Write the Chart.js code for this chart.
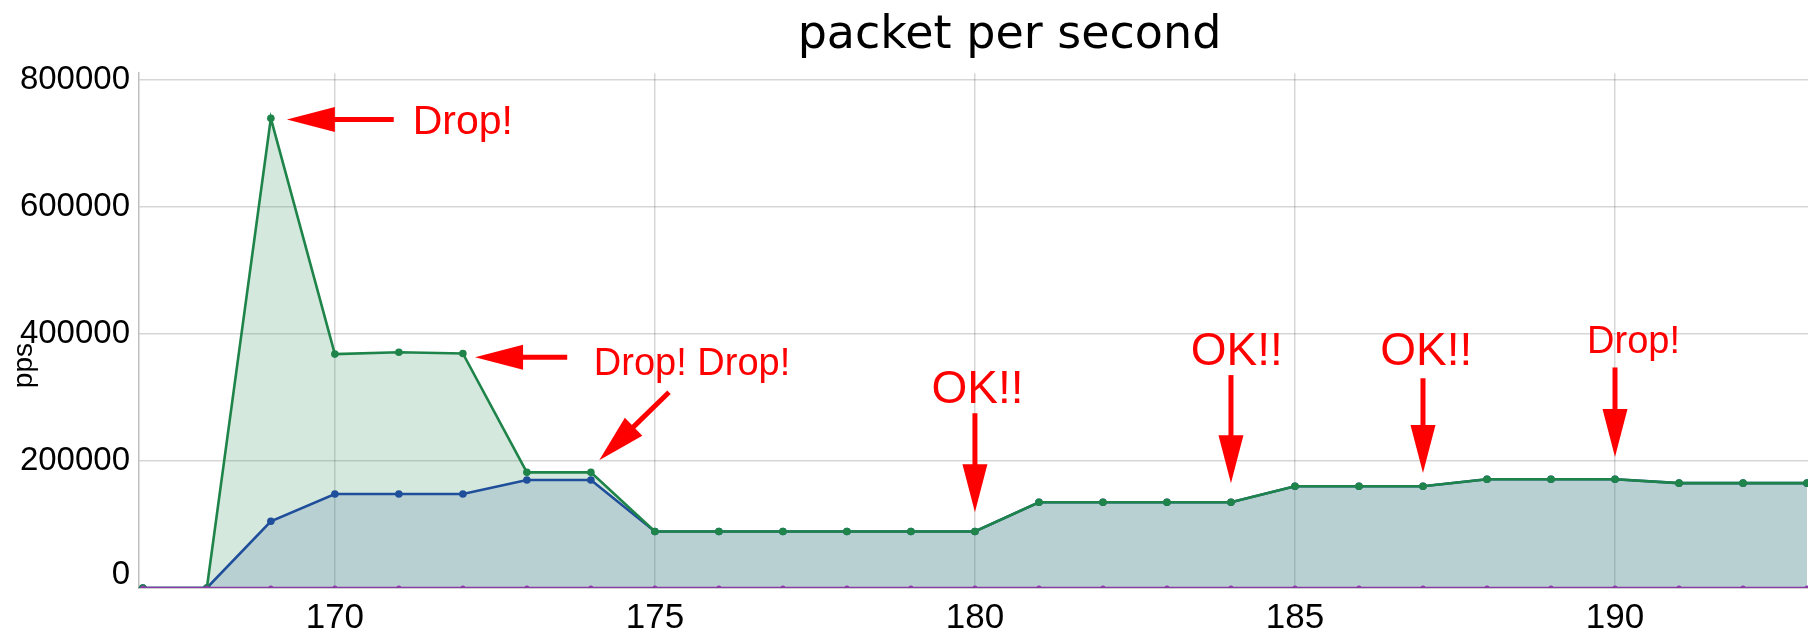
<!DOCTYPE html>
<html>
<head>
<meta charset="utf-8">
<script src="https://cdn.jsdelivr.net/npm/chart.js@4.4.0/dist/chart.umd.min.js"></script>
<style>
    html, body { margin: 0; padding: 0; background: #fff; overflow: hidden; }
    #chart-wrap { width: 1884px; height: 633px; }
</style>
</head>
<body>
<div id="chart-wrap"><canvas id="pps-chart"></canvas></div>
<script>
// seconds on the x axis
const seconds = [167, 168, 169, 170, 171, 172, 173, 174, 175, 176, 177, 178, 179, 180,
                 181, 182, 183, 184, 185, 186, 187, 188, 189, 190, 191, 192, 193];
// sent packets per second (green)
const sentPps = [0, 0, 739000, 368000, 371000, 369000, 182000, 182000, 89000, 89000, 89000, 89000, 89000, 89000,
                 135000, 135000, 135000, 135000, 160000, 160000, 160000, 171000, 171000, 171000, 165000, 165000, 165000];
// received packets per second (blue)
const recvPps = [0, 0, 105000, 148000, 148000, 148000, 170000, 170000, 89000, 89000, 89000, 89000, 89000, 89000,
                 135000, 135000, 135000, 135000, 160000, 160000, 160000, 171000, 171000, 171000, 165000, 165000, 165000];
// error packets per second (purple)
const errPps = [0, 0, 0, 0, 0, 0, 0, 0, 0, 0, 0, 0, 0, 0, 0, 0, 0, 0, 0, 0, 0, 0, 0, 0, 0, 0, 0];

const xTicks = [170, 175, 180, 185, 190];
const yTicks = [0, 200000, 400000, 600000, 800000];

// callout texts, anchored in data units (x = second, y = pps at the text baseline)
const noteTexts = ['Drop!', 'Drop! Drop!', 'OK!!', 'OK!!', 'OK!!', 'Drop!'];
const noteX = [172.0, 175.58, 180.04, 184.09, 187.05, 190.29];
const noteY = [715000, 335000, 291000, 351000, 351000, 369000];
const noteSize = [41, 38, 46, 46, 46, 38];

// callout arrows, tail -> tip in data units
const arrowFromX = [170.92, 173.63, 175.22, 180, 184, 187, 190];
const arrowFromY = [737000, 363000, 308000, 275000, 335000, 330000, 347000];
const arrowToX = [169.25, 172.19, 174.13, 180, 184, 187, 190];
const arrowToY = [737000, 363000, 201000, 119000, 165000, 181000, 206000];

const toPoints = vals => seconds.map((s, i) => ({ x: s, y: vals[i] }));

const callouts = {
    id: 'callouts',
    afterDatasetsDraw(chart) {
        const { ctx, scales: { x, y } } = chart;
        const headLen = 48, headW = 25;
        ctx.save();
        ctx.fillStyle = '#ff0000';
        ctx.strokeStyle = '#ff0000';
        ctx.lineWidth = 5;
        arrowFromX.forEach((fx, i) => {
            const x0 = x.getPixelForValue(fx), y0 = y.getPixelForValue(arrowFromY[i]);
            const x1 = x.getPixelForValue(arrowToX[i]), y1 = y.getPixelForValue(arrowToY[i]);
            const a = Math.atan2(y1 - y0, x1 - x0);
            const c = Math.cos(a), s = Math.sin(a);
            const hx = x1 - c * headLen, hy = y1 - s * headLen;
            ctx.beginPath();
            ctx.moveTo(x0, y0);
            ctx.lineTo(hx + c * 2, hy + s * 2);
            ctx.stroke();
            ctx.beginPath();
            ctx.moveTo(x1, y1);
            ctx.lineTo(hx - s * headW / 2, hy + c * headW / 2);
            ctx.lineTo(hx + s * headW / 2, hy - c * headW / 2);
            ctx.closePath();
            ctx.fill();
        });
        ctx.textAlign = 'center';
        ctx.textBaseline = 'alphabetic';
        noteTexts.forEach((t, i) => {
            ctx.font = noteSize[i] + 'px "Liberation Sans", Arial, sans-serif';
            ctx.fillText(t, x.getPixelForValue(noteX[i]), y.getPixelForValue(noteY[i]));
        });
        ctx.restore();
    }
};

const ctx = document.getElementById('pps-chart').getContext('2d');
new Chart(ctx, {
    type: 'line',
    data: {
        datasets: [
            {
                label: 'error', data: toPoints(errPps),
                borderColor: '#8b3aa8', backgroundColor: '#8b3aa8',
                borderWidth: 2.5, pointRadius: 2.5, pointBorderWidth: 0, fill: false
            },
            {
                label: 'sent', data: toPoints(sentPps),
                borderColor: '#1e8449', backgroundColor: 'rgba(46,139,87,0.2)',
                pointBackgroundColor: '#1e8449', pointBorderColor: '#1e8449',
                borderWidth: 2.6, pointRadius: 3.8, pointBorderWidth: 0, fill: 'origin'
            },
            {
                label: 'received', data: toPoints(recvPps),
                borderColor: '#1f4e9a', backgroundColor: 'rgba(79,106,190,0.2)',
                pointBackgroundColor: '#1f4e9a', pointBorderColor: '#1f4e9a',
                borderWidth: 2.6, pointRadius: 3.8, pointBorderWidth: 0, fill: 'origin'
            }
        ]
    },
    options: {
        responsive: true,
        maintainAspectRatio: false,
        animation: false,
        layout: { padding: 0 },
        plugins: {
            legend: { display: false },
            tooltip: { enabled: false },
            filler: { drawTime: 'beforeDatasetsDraw' },
            title: {
                display: true,
                text: 'packet per second',
                fullSize: false,
                color: '#000',
                font: { family: '"DejaVu Sans", sans-serif', size: 46, weight: 'normal' },
                padding: { top: 8, bottom: 10 }
            }
        },
        scales: {
            x: {
                type: 'linear',
                min: 166.94,
                max: 194.14,
                afterBuildTicks: s => { s.ticks = xTicks.map(v => ({ value: v })); },
                afterFit: s => { s.height = 45; },
                grid: { color: 'rgba(0,0,0,0.16)', lineWidth: 1.5, drawTicks: false },
                border: { color: 'rgba(0,0,0,0.25)', width: 1.5 },
                ticks: {
                    color: '#000', padding: 9,
                    font: { family: '"Liberation Sans", Arial, sans-serif', size: 35 }
                }
            },
            y: {
                min: 0,
                max: 810000,
                afterBuildTicks: s => { s.ticks = yTicks.map(v => ({ value: v })); },
                afterFit: s => { s.width = 139; },
                grid: { color: 'rgba(0,0,0,0.16)', lineWidth: 1.5, drawTicks: false },
                border: { color: 'rgba(0,0,0,0.25)', width: 1.5 },
                ticks: {
                    color: '#000', padding: 9,
                    // the zero label sits a little above the axis line
                    callback: v => (v === 0 ? ['0', ''] : String(v)),
                    font: { family: '"Liberation Sans", Arial, sans-serif', size: 33, lineHeight: 0.8 }
                },
                title: {
                    display: true, text: 'pps         ', color: '#000',
                    padding: { top: 7, bottom: 0 },
                    font: { family: '"Liberation Sans", Arial, sans-serif', size: 28 }
                }
            }
        }
    },
    plugins: [callouts]
});
</script>
</body>
</html>
